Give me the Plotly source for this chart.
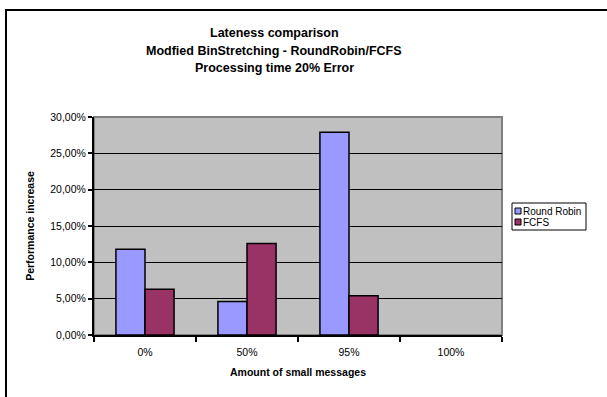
import plotly.graph_objects as go

# Chart data
categories = ["0%", "50%", "95%", "100%"]
series_names = ["Round Robin", "FCFS"]
series_colors = ["#9999FF", "#993366"]
round_robin = [0.118, 0.046, 0.279, None]
fcfs = [0.063, 0.126, 0.054, None]
y_ticks = [0.0, 0.05, 0.10, 0.15, 0.20, 0.25, 0.30]
title_lines = [
    "Lateness comparison",
    "Modfied BinStretching - RoundRobin/FCFS",
    "Processing time 20% Error",
]

W, H = 607, 397
L, R, T, B = 94, 105, 117, 62
pw, ph = W - L - R, H - T - B

font_family = "Liberation Sans, Arial, sans-serif"


def px_x(px):
    return (px - L) / pw


def px_y(py):
    return (H - B - py) / ph


fig = go.Figure()
for name, color, values in zip(series_names, series_colors, [round_robin, fcfs]):
    fig.add_trace(go.Bar(
        name=name, x=categories, y=values,
        marker=dict(color=color, line=dict(color="black", width=1.5)),
        showlegend=False,
    ))

shapes = [
    # gray frame around the plot area
    dict(type="rect", xref="paper", yref="paper", x0=0, x1=1, y0=0, y1=1,
         line=dict(color="#808080", width=2), layer="below"),
    # outer chart border
    dict(type="rect", xref="paper", yref="paper",
         x0=px_x(6), x1=px_x(W + 20), y0=px_y(H + 20), y1=px_y(10),
         line=dict(color="black", width=2)),
    # legend box
    dict(type="rect", xref="paper", yref="paper",
         x0=px_x(512), x1=px_x(586), y0=px_y(230), y1=px_y(203),
         line=dict(color="black", width=1), fillcolor="white"),
]

annotations = []
# title, one line per annotation
for i, line in enumerate(title_lines):
    annotations.append(dict(
        text=f"<b>{line}</b>", xref="paper", yref="paper",
        x=px_x(274), y=px_y(33 + 17.5 * i), xanchor="center", yanchor="middle",
        showarrow=False, font=dict(family=font_family, size=12.5, color="black"),
    ))

# legend entries
for i, (name, color) in enumerate(zip(series_names, series_colors)):
    cy = 211 + 11 * i
    shapes.append(dict(
        type="rect", xref="paper", yref="paper",
        x0=px_x(515), x1=px_x(521), y0=px_y(cy + 3), y1=px_y(cy - 3),
        line=dict(color="black", width=1), fillcolor=color,
    ))
    annotations.append(dict(
        text=name, xref="paper", yref="paper",
        x=px_x(521), y=px_y(cy), xanchor="left", yanchor="middle",
        showarrow=False, font=dict(family=font_family, size=10, color="black"),
    ))

fig.update_layout(
    width=W, height=H,
    margin=dict(l=L, r=R, t=T, b=B, autoexpand=False),
    paper_bgcolor="white",
    plot_bgcolor="#C0C0C0",
    separators=",.",
    font=dict(family=font_family, size=10, color="black"),
    barmode="group",
    bargap=0.43,
    bargroupgap=0,
    showlegend=False,
    xaxis=dict(
        type="category",
        showline=True, linecolor="black", linewidth=2,
        ticks="outside", tickson="boundaries", ticklen=5, tickwidth=1.5, tickcolor="black",
        showgrid=False,
        tickfont=dict(size=10.5),
        ticklabelstandoff=6,
        title=dict(text="<b>Amount of small messages</b>", font=dict(size=10.5), standoff=12),
        range=[-0.5, 3.5],
    ),
    yaxis=dict(
        range=[0, 0.30],
        tickvals=y_ticks,
        tickformat=".2%",
        showline=True, linecolor="black", linewidth=2,
        ticks="outside", ticklen=4, tickwidth=1.5, tickcolor="black",
        showgrid=True, gridcolor="black", gridwidth=1,
        zeroline=False,
        tickfont=dict(size=10.5),
        title=dict(text="<b>Performance increase</b>", font=dict(size=10.5), standoff=14),
    ),
    shapes=shapes,
    annotations=annotations,
)

fig.write_html("out.html")
